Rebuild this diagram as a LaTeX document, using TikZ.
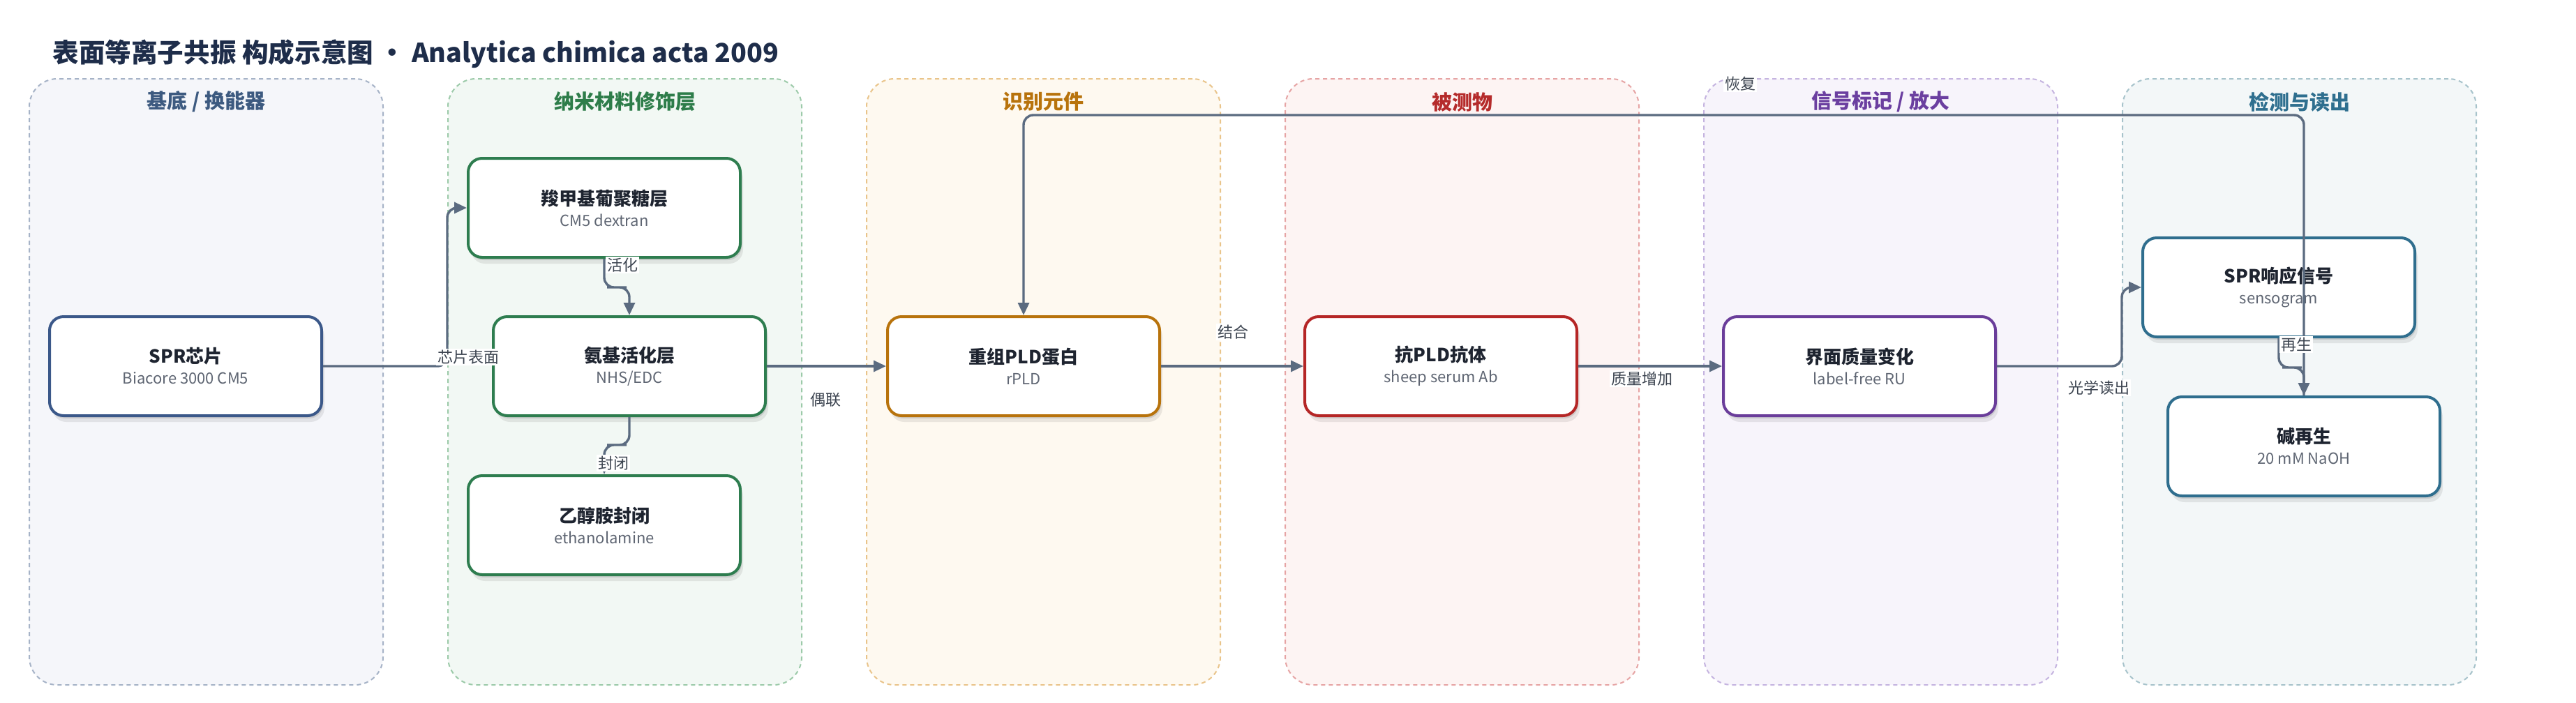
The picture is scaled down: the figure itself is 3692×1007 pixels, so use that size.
\documentclass[tikz,border=0pt]{standalone}
\usepackage{fontspec}
\setmainfont{Noto Sans CJK SC}
\usetikzlibrary{arrows.meta,shadows}
\definecolor{titlec}{HTML}{1E2D4A}
\definecolor{nodetc}{HTML}{1E2430}
\definecolor{subc}{HTML}{5F6673}
\definecolor{labc}{HTML}{3C4450}
\definecolor{edgec}{HTML}{5B6B80}
\definecolor{laFill}{HTML}{F5F6FA}\definecolor{laLine}{HTML}{A6B3C7}\definecolor{laText}{HTML}{3D5A80}\definecolor{laNode}{HTML}{3B5889}
\definecolor{lbFill}{HTML}{F2F8F4}\definecolor{lbLine}{HTML}{9CCAA9}\definecolor{lbText}{HTML}{2E7D4A}\definecolor{lbNode}{HTML}{2E7D4F}
\definecolor{lcFill}{HTML}{FEF9F0}\definecolor{lcLine}{HTML}{E9C48A}\definecolor{lcText}{HTML}{B8730C}\definecolor{lcNode}{HTML}{B8730C}
\definecolor{ldFill}{HTML}{FDF4F3}\definecolor{ldLine}{HTML}{E6A4A4}\definecolor{ldText}{HTML}{B52B2B}\definecolor{ldNode}{HTML}{B52626}
\definecolor{leFill}{HTML}{F7F4FB}\definecolor{leLine}{HTML}{C5B4E0}\definecolor{leText}{HTML}{6B3FA0}\definecolor{leNode}{HTML}{6A3D9A}
\definecolor{lfFill}{HTML}{F3F7F8}\definecolor{lfLine}{HTML}{A7C3CB}\definecolor{lfText}{HTML}{2F6F8F}\definecolor{lfNode}{HTML}{2F6E8E}
\newcommand\boxtext[2]{{\fontsize{13pt}{16pt}\selectfont\bfseries #1}\\[3pt]{\fontsize{11pt}{13pt}\selectfont\color{subc}#2}}
\tikzset{
  lanebox/.style n args={2}{fill=#1, draw=#2, dash pattern=on 3pt off 2.5pt, line width=1pt, rounded corners=20pt, minimum width=253.5pt, minimum height=434.5pt, inner sep=0pt},
  lanetitle/.style={text=#1, font=\fontsize{14.5pt}{17pt}\selectfont\bfseries},
  stepbox/.style={draw=#1, line width=2pt, fill=white, rounded corners=10pt, minimum width=195pt, minimum height=71pt, align=center, text=nodetc, inner sep=2pt,
    drop shadow={shadow xshift=1pt, shadow yshift=-2pt, opacity=0.10, fill=black},
    drop shadow={shadow xshift=2pt, shadow yshift=-4.5pt, opacity=0.08, fill=black}},
  flow/.style={draw=edgec, line width=1.7pt, rounded corners=7pt, -{Triangle[length=9pt,width=8pt]}},
  lab/.style={fill=white, inner sep=1pt, text=labc, font=\fontsize{11pt}{13pt}\selectfont}
}
\begin{document}
\begin{tikzpicture}[x=0.5pt,y=-0.5pt]
\useasboundingbox (0,0) rectangle (3692,1007);
\fill[white] (0,0) rectangle (3692,1007);
% title
\node[anchor=west, inner sep=0pt, text=titlec, font=\fontsize{18.8pt}{22pt}\selectfont\bfseries] (title) at (75,77) {表面等离子共振 构成示意图 · Analytica chimica acta 2009};
% lanes
\node[lanebox={laFill}{laLine}] (lane1) at (295.5,547.5) {};
\node[lanebox={lbFill}{lbLine}] (lane2) at (895.5,547.5) {};
\node[lanebox={lcFill}{lcLine}] (lane3) at (1495.5,547.5) {};
\node[lanebox={ldFill}{ldLine}] (lane4) at (2095.5,547.5) {};
\node[lanebox={leFill}{leLine}] (lane5) at (2695.5,547.5) {};
\node[lanebox={lfFill}{lfLine}] (lane6) at (3295.5,547.5) {};
\node[lanetitle=laText] (lt1) at (295.5,146) {基底 / 换能器};
\node[lanetitle=lbText] (lt2) at (895.5,146) {纳米材料修饰层};
\node[lanetitle=lcText] (lt3) at (1495.5,146) {识别元件};
\node[lanetitle=ldText] (lt4) at (2095.5,146) {被测物};
\node[lanetitle=leText] (lt5) at (2695.5,146) {信号标记 / 放大};
\node[lanetitle=lfText] (lt6) at (3295.5,146) {检测与读出};
% nodes
\node[stepbox=laNode] (spr) at (266,525) {\boxtext{SPR芯片}{Biacore 3000 CM5}};
\node[stepbox=lbNode] (cm5) at (866,298) {\boxtext{羧甲基葡聚糖层}{CM5 dextran}};
\node[stepbox=lbNode] (act) at (902,525) {\boxtext{氨基活化层}{NHS/EDC}};
\node[stepbox=lbNode] (eth) at (866,753) {\boxtext{乙醇胺封闭}{ethanolamine}};
\node[stepbox=lcNode] (rpld) at (1467,525) {\boxtext{重组PLD蛋白}{rPLD}};
\node[stepbox=ldNode] (ab) at (2065,525) {\boxtext{抗PLD抗体}{sheep serum Ab}};
\node[stepbox=leNode] (ru) at (2665,525) {\boxtext{界面质量变化}{label-free RU}};
\node[stepbox=lfNode] (sens) at (3266,412) {\boxtext{SPR响应信号}{sensogram}};
\node[stepbox=lfNode] (naoh) at (3302,640) {\boxtext{碱再生}{20 mM NaOH}};
% connectors
\coordinate (k1) at (641,525);
\coordinate (j2) at (884,412);
\coordinate (j3) at (884,638);
\coordinate (k7) at (3041,525);
\coordinate (j8) at (3285,527);
\coordinate (k9) at (2400,165);
\draw[flow] (spr.east) -- (k1) |- (cm5.west);
\draw[flow] (cm5.south) |- (j2) -| (act.north);
\draw[flow] (act.south) |- (j3) -| (eth.north);
\draw[flow] (act.east) -- (rpld.west);
\draw[flow] (rpld.east) -- (ab.west);
\draw[flow] (ab.east) -- (ru.west);
\draw[flow] (ru.east) -- (k7) |- (sens.west);
\draw[flow] (sens.south) |- (j8) -| (naoh.north);
\draw[flow] (naoh.north) |- (k9) -| (rpld.north);
% labels
\node[lab] (l1) at (671,512) {芯片表面};
\node[lab] (l2) at (892,380) {活化};
\node[lab] (l3) at (879,664) {封闭};
\node[lab] (l4) at (1183,573) {偶联};
\node[lab] (l5) at (1767,476) {结合};
\node[lab] (l6) at (2353,543) {质量增加};
\node[lab] (l7) at (3008,556) {光学读出};
\node[lab] (l8) at (3291,494) {再生};
\node[lab] (l9) at (2494,120) {恢复};
\end{tikzpicture}
\end{document}
